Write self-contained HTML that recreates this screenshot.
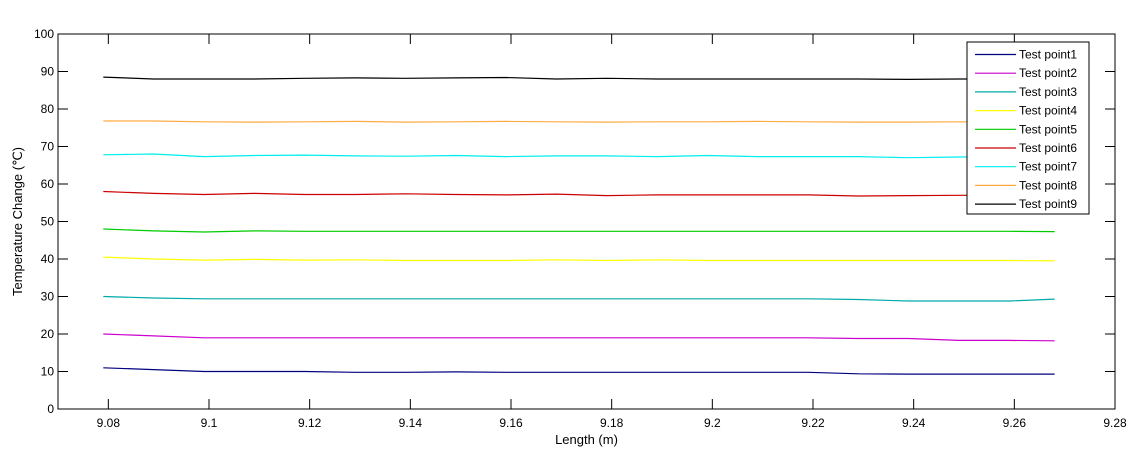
<!DOCTYPE html>
<html><head><meta charset="utf-8"><style>
body{margin:0;background:#fff;}
svg{display:block;font-family:"Liberation Sans",Arial,sans-serif;}
</style></head><body>
<svg id="chart" width="1142" height="459" viewBox="0 0 1142 459" xmlns="http://www.w3.org/2000/svg">
<rect x="0" y="0" width="1142" height="459" fill="#fff"/>
<g id="series"></g>
<g id="axes"></g>
<g id="legend"></g>
</svg>
<script>
const xValues=[9.079,9.089,9.099,9.109,9.119,9.129,9.139,9.149,9.159,9.169,9.179,9.189,9.199,9.209,9.219,9.229,9.239,9.249,9.259,9.268];
const seriesNames=["Test point1","Test point2","Test point3","Test point4","Test point5","Test point6","Test point7","Test point8","Test point9"];
const seriesColors=["#00007f","#cc00cc","#00aaaa","#ffff00","#00cc00","#cc0000","#00eeee","#ffaa44","#000000"];
const tp1=[11,10.5,10,10,10,9.8,9.8,9.9,9.8,9.8,9.8,9.8,9.8,9.8,9.8,9.4,9.3,9.3,9.3,9.3];
const tp2=[20,19.5,19,19,19,19,19,19,19,19,19,19,19,19,19,18.8,18.8,18.3,18.3,18.2];
const tp3=[30,29.6,29.4,29.4,29.4,29.4,29.4,29.4,29.4,29.4,29.4,29.4,29.4,29.4,29.4,29.2,28.8,28.8,28.8,29.3];
const tp4=[40.5,40,39.7,39.9,39.7,39.8,39.6,39.6,39.6,39.8,39.6,39.8,39.6,39.6,39.6,39.6,39.6,39.6,39.6,39.5];
const tp5=[48,47.5,47.2,47.5,47.4,47.4,47.4,47.4,47.4,47.4,47.4,47.4,47.4,47.4,47.4,47.4,47.4,47.4,47.4,47.3];
const tp6=[58,57.5,57.2,57.5,57.2,57.2,57.4,57.2,57.1,57.3,56.9,57.1,57.1,57.1,57.1,56.8,56.9,57,57,57];
const tp7=[67.8,68,67.3,67.6,67.7,67.5,67.4,67.6,67.3,67.5,67.5,67.3,67.6,67.3,67.3,67.3,67,67.2,67.3,67.3];
const tp8=[76.8,76.8,76.6,76.5,76.6,76.7,76.5,76.6,76.7,76.6,76.5,76.6,76.6,76.7,76.6,76.5,76.5,76.6,76.5,76.6];
const tp9=[88.5,88,88,88,88.2,88.3,88.2,88.3,88.4,88,88.2,88,88,88,88,88,87.9,88,88,88];
const allSeries=[tp1,tp2,tp3,tp4,tp5,tp6,tp7,tp8,tp9];
const xTicks=["9.08","9.1","9.12","9.14","9.16","9.18","9.2","9.22","9.24","9.26","9.28"];
const yTicks=["0","10","20","30","40","50","60","70","80","90","100"];

const NS="http://www.w3.org/2000/svg";
const L=58,R=1115,T=34,B=409,XMIN=9.07,XMAX=9.28,YMIN=0,YMAX=100;
function sx(v){return L+(v-XMIN)/(XMAX-XMIN)*(R-L);}
function sy(v){return B-(v-YMIN)/(YMAX-YMIN)*(B-T);}
function mk(tag,attrs,parent){const e=document.createElementNS(NS,tag);for(const k in attrs)e.setAttribute(k,attrs[k]);parent.appendChild(e);return e;}

const gS=document.getElementById('series');
allSeries.forEach((s,i)=>{
  const pts=s.map((v,j)=>sx(xValues[j]).toFixed(1)+','+sy(v).toFixed(1)).join(' ');
  const pl=mk('polyline',{points:pts,fill:'none',stroke:seriesColors[i],'stroke-width':1.2},gS);
  
  
});

const gA=document.getElementById('axes');
const frame=mk('rect',{x:L,y:T,width:R-L,height:B-T,fill:'none',stroke:'#000','stroke-width':1},gA);


xTicks.forEach(t=>{
  const x=sx(parseFloat(t));
  mk('line',{x1:x,y1:B,x2:x,y2:B-10,stroke:'#000'},gA);
  mk('line',{x1:x,y1:T,x2:x,y2:T+10,stroke:'#000'},gA);
  const tx=mk('text',{x:x,y:B+18,'font-size':12,'text-anchor':'middle',fill:'#000'},gA);
  tx.textContent=t;
  
  
});
yTicks.forEach(t=>{
  const y=sy(parseFloat(t));
  mk('line',{x1:L,y1:y,x2:L+10,y2:y,stroke:'#000'},gA);
  mk('line',{x1:R,y1:y,x2:R-10,y2:y,stroke:'#000'},gA);
  const tx=mk('text',{x:L-4,y:y+4,'font-size':12,'text-anchor':'end',fill:'#000'},gA);
  tx.textContent=t;
  
  
});
const xt=mk('text',{x:(L+R)/2,y:444,'font-size':13,'text-anchor':'middle',fill:'#000'},gA);
xt.textContent='Length (m)';


const yt=mk('text',{x:22,y:(T+B)/2,'font-size':13,'text-anchor':'middle',fill:'#000',transform:'rotate(-90 22 '+((T+B)/2)+')'},gA);
yt.textContent='Temperature Change (℃)';



const gL=document.getElementById('legend');


mk('rect',{x:967,y:42,width:122,height:172,fill:'#fff',stroke:'#000'},gL);
seriesNames.forEach((n,i)=>{
  const y=54.5+i*18.7;
  const g=mk('g',{},gL);
  
  
  mk('line',{x1:975,y1:y,x2:1016,y2:y,stroke:seriesColors[i],'stroke-width':1.2},g);
  const t=mk('text',{x:1019,y:y+4,'font-size':12,fill:'#000'},g);
  t.textContent=n;
});
</script>
</body></html>
